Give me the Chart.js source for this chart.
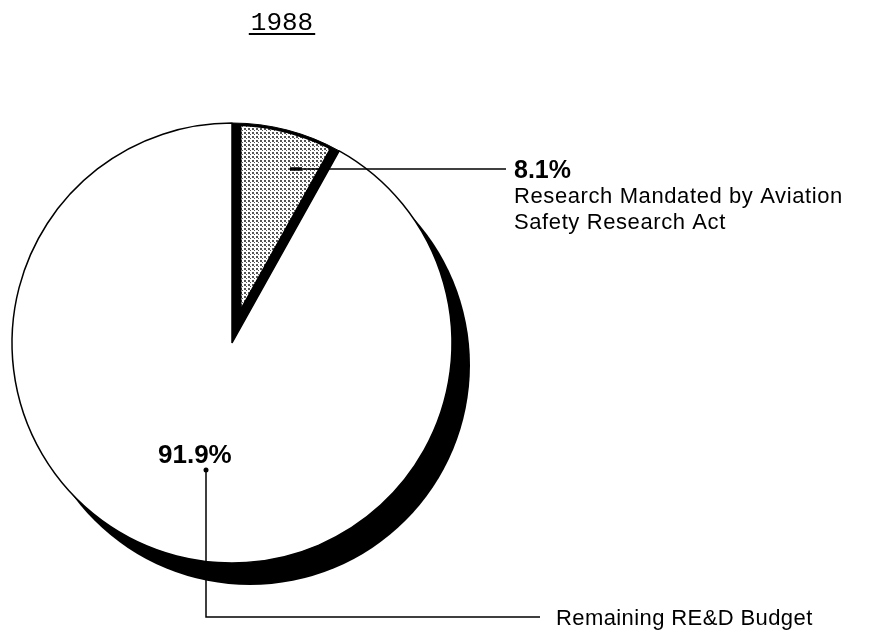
<!DOCTYPE html>
<html>
<head>
<meta charset="utf-8">
<script src="https://cdn.jsdelivr.net/npm/chart.js@4/dist/chart.umd.min.js"></script>
<style>
  html, body { margin: 0; padding: 0; background: #fff; }
  #wrap { position: relative; width: 890px; height: 640px; }
</style>
</head>
<body>
<div id="wrap"><canvas id="pie"></canvas></div>
<script>
// 1988 RE&D budget split
const title = "1988";
const labels = ["Research Mandated by Aviation Safety Research Act", "Remaining RE&D Budget"];
const values = [8.1, 91.9];
const valueLabels = ["8.1%", "91.9%"];
const labelLines = [["Research Mandated by Aviation", "Safety Research Act"], ["Remaining RE&D Budget"]];

const SANS = '"Liberation Sans", Arial, Helvetica, sans-serif';

// dotted fill for the small slice
function dotPattern(){
  const c = document.createElement("canvas");
  c.width = 4; c.height = 4;
  const g = c.getContext("2d");
  g.fillStyle = "#fff"; g.fillRect(0, 0, 4, 4);
  g.fillStyle = "#555";
  g.fillRect(0, 0, 2, 2);
  g.fillRect(2, 2, 1, 1);
  return g.createPattern(c, "repeat");
}
const dots = dotPattern();

// black drop shadow under the pie
const shadowPlugin = {
  id: "pieShadow",
  beforeDatasetsDraw(chart){
    const el = chart.getDatasetMeta(0).data[0];
    if (!el) return;
    const ctx = chart.ctx;
    ctx.save();
    ctx.fillStyle = "#000";
    ctx.beginPath();
    ctx.arc(el.x + 18, el.y + 22, el.outerRadius, 0, Math.PI * 2);
    ctx.fill();
    ctx.restore();
  }
};

// dotted wedge inset into the black slice
const insetPlugin = {
  id: "insetSlice",
  afterDatasetsDraw(chart){
    const el = chart.getDatasetMeta(0).data[0];
    if (!el) return;
    const ctx = chart.ctx;
    const half = (el.endAngle - el.startAngle) / 2;
    const mid = el.startAngle + half;
    const w = 9.5;
    const d = w / Math.sin(half);
    const ax = el.x + d * Math.cos(mid), ay = el.y + d * Math.sin(mid);
    ctx.save();
    ctx.beginPath();
    ctx.arc(el.x, el.y, el.outerRadius - 3, 0, Math.PI * 2);
    ctx.clip();
    ctx.beginPath();
    ctx.moveTo(ax, ay);
    ctx.arc(ax, ay, el.outerRadius * 1.3, el.startAngle, el.endAngle);
    ctx.closePath();
    ctx.fillStyle = dots;
    ctx.fill();
    ctx.restore();
  }
};

// title, percentages, leader lines, labels
const textPlugin = {
  id: "annotations",
  afterDraw(chart){
    const ctx = chart.ctx;
    const el = chart.getDatasetMeta(0).data[0];
    const cx = el.x, cy = el.y, r = el.outerRadius;
    ctx.save();
    ctx.fillStyle = "#000";
    ctx.strokeStyle = "#000";

    // title
    ctx.font = '26px "Liberation Mono", "Courier New", monospace';
    ctx.textBaseline = "alphabetic";
    ctx.textAlign = "center";
    ctx.fillText(title, 282, 30);
    const tw = ctx.measureText(title).width;
    ctx.lineWidth = 2;
    ctx.beginPath();
    ctx.moveTo(282 - tw / 2 - 2, 34); ctx.lineTo(282 + tw / 2 + 2, 34);
    ctx.stroke();

    ctx.textAlign = "left";
    // small slice leader
    const ly = cy - r + 46;
    ctx.lineWidth = 3.5;
    ctx.beginPath(); ctx.moveTo(cx + 58, ly); ctx.lineTo(cx + 70, ly); ctx.stroke();
    ctx.lineWidth = 1.3;
    ctx.beginPath(); ctx.moveTo(cx + 66, ly); ctx.lineTo(506, ly); ctx.stroke();

    ctx.font = "bold 25px " + SANS;
    ctx.fillText(valueLabels[0], 514, 178);
    ctx.font = "22px " + SANS;
    ctx.letterSpacing = "0.6px";
    ctx.fillText(labelLines[0][0], 514, 203);
    ctx.fillText(labelLines[0][1], 514, 229);
    ctx.letterSpacing = "0px";

    // big slice label and leader
    ctx.font = "bold 26px " + SANS;
    ctx.fillText(valueLabels[1], 158, 463);
    const px = 206, py = 470, by = 617;
    ctx.beginPath(); ctx.arc(px, py, 2.5, 0, Math.PI * 2); ctx.fill();
    ctx.lineWidth = 1.5;
    ctx.beginPath();
    ctx.moveTo(px, py); ctx.lineTo(px, by); ctx.lineTo(540, by);
    ctx.stroke();
    ctx.font = "22px " + SANS;
    ctx.letterSpacing = "0.4px";
    ctx.fillText(labelLines[1][0], 556, 625);
    ctx.restore();
  }
};

new Chart(document.getElementById("pie"), {
  type: "pie",
  data: {
    labels,
    datasets: [{
      data: values,
      backgroundColor: ["#000", "#fff"],
      borderColor: "#000",
      borderWidth: [1, 1.5]
    }]
  },
  options: {
    responsive: true,
    maintainAspectRatio: false,
    animation: false,
    radius: 220,
    layout: { padding: { left: 12, right: 438, top: 100, bottom: 54 } },
    plugins: { legend: { display: false }, tooltip: { enabled: false }, title: { display: false } }
  },
  plugins: [shadowPlugin, insetPlugin, textPlugin]
});
</script>
</body>
</html>
